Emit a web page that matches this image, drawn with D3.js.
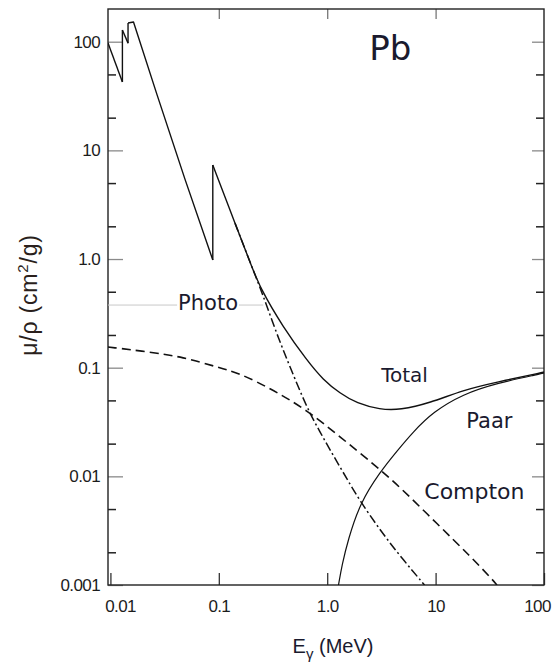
<!DOCTYPE html>
<html>
<head>
<meta charset="utf-8">
<script src="https://cdn.jsdelivr.net/npm/d3@7"></script>
<style>
  body { margin: 0; background: #fff; }
  svg { display: block; font-family: "Liberation Sans", Arial, sans-serif; }
</style>
</head>
<body>
<svg id="chart" width="552" height="670"></svg>
<script>
// photon energy (MeV) and mass attenuation coefficient (cm^2/g) for lead
// repeated energies are absorption edges (vertical jumps)
const totalE  = [0.0095, 0.0129, 0.0129, 0.01454, 0.01454, 0.01633, 0.0269, 0.0488, 0.088, 0.088,
                 0.141, 0.194, 0.240, 0.391, 0.647, 0.920, 1.313, 1.872, 3.07, 4.69, 8.88,
                 17.9, 36.9, 91.8, 100];
const totalMu = [97.2, 42.6, 128, 97, 148.6, 151.7, 32.6, 5.41, 0.98, 7.33,
                 2.14, 0.938, 0.541, 0.2367, 0.1176, 0.0770, 0.0581, 0.0470, 0.0412, 0.0408, 0.0473,
                 0.0623, 0.0738, 0.0893, 0.0912];

const photoE  = [0.141, 0.194, 0.2557, 0.337, 0.454, 0.651, 0.858, 1.131, 1.523, 2.007, 3.07, 4.69, 7.90];
const photoMu = [2.14, 0.938, 0.4663, 0.2129, 0.1014, 0.0425, 0.02558, 0.01571, 0.00945, 0.00593, 0.00321, 0.00185, 0.001];

const comptonE  = [0.0095, 0.0232, 0.0467, 0.0962, 0.157, 0.318, 0.647, 1.313, 2.862, 4.69, 10.5, 20.8, 33.8, 36.8];
const comptonMu = [0.155, 0.1393, 0.1253, 0.1014, 0.0887, 0.0623, 0.0408, 0.02316, 0.01226, 0.00797, 0.0036, 0.00185, 0.00111, 0.001];

const pairE  = [1.271, 1.369, 1.555, 2.007, 3.07, 4.405, 6.19, 9.46, 17.9, 36.9, 91.8, 100];
const pairMu = [0.001, 0.001527, 0.002594, 0.00568, 0.01096, 0.0171, 0.02558, 0.0391, 0.0572, 0.0722, 0.0874, 0.0893];

const xTicks = [0.01, 0.1, 1, 10, 100];
const xTickLabels = ["0.01", "0.1", "1.0", "10", "100"];
const yTicks = [0.001, 0.01, 0.1, 1, 10, 100];
const yTickLabels = ["0.001", "0.01", "0.1", "1.0", "10", "100"];
const yMinorTicks = [0.002, 0.005, 0.02, 0.05, 0.2, 0.5, 2, 5, 20, 50];

const svg = d3.select("#chart");

const x = d3.scaleLog().domain([0.0095, 100]).range([108, 544]);
const y = d3.scaleLog().domain([0.001, 200]).range([585, 9]);

const [x0, x1] = x.range();
const [y0, y1] = y.range();

svg.append("clipPath").attr("id", "plot")
    .append("rect")
    .attr("x", x0).attr("y", y1)
    .attr("width", x1 - x0).attr("height", y0 - y1);

// axes: ticks point inward
function styleAxis(g, tickColor, tickWidth) {
    g.attr("font-family", null).attr("font-size", null);
    g.select(".domain").remove();
    g.selectAll(".tick line").attr("stroke", tickColor).attr("stroke-width", tickWidth);
    g.selectAll(".tick text")
        .attr("fill", "#1c1c1c")
        .attr("font-size", 17)
        .attr("letter-spacing", -0.6);
}

svg.append("g")
    .attr("transform", `translate(${x0},0)`)
    .call(d3.axisLeft(y).tickValues(yTicks).tickFormat((d, i) => yTickLabels[i])
        .tickSizeInner(-15).tickSizeOuter(0).tickPadding(8))
    .call(g => styleAxis(g, "#8a8a8a", 1.3));

svg.append("g")
    .attr("transform", `translate(${x0},0)`)
    .call(d3.axisLeft(y).tickValues(yMinorTicks).tickFormat("").tickSizeInner(-8).tickSizeOuter(0))
    .call(g => styleAxis(g, "#222", 1.5));

svg.append("g")
    .attr("transform", `translate(${x1},0)`)
    .call(d3.axisRight(y).tickValues(yTicks).tickFormat("").tickSizeInner(-12).tickSizeOuter(0))
    .call(g => styleAxis(g, "#8a8a8a", 1.3));

svg.append("g")
    .attr("transform", `translate(${x1},0)`)
    .call(d3.axisRight(y).tickValues(yMinorTicks).tickFormat("").tickSizeInner(-8).tickSizeOuter(0))
    .call(g => styleAxis(g, "#222", 1.5));

svg.append("g")
    .attr("transform", `translate(0,${y0})`)
    .call(d3.axisBottom(x).tickValues(xTicks).tickFormat((d, i) => xTickLabels[i])
        .tickSizeInner(-12).tickSizeOuter(0).tickPadding(15))
    .call(g => styleAxis(g, "#333", 1.3))
    .call(g => g.selectAll(".tick text")
        .attr("dx", d => Math.min(Math.max(x(d), 120), 537) - x(d)));

svg.append("g")
    .attr("transform", `translate(0,${y1})`)
    .call(d3.axisTop(x).tickValues(xTicks.slice(1, 4)).tickFormat("").tickSizeInner(-10).tickSizeOuter(0))
    .call(g => styleAxis(g, "#777", 1.3));

// frame
svg.append("rect")
    .attr("x", x0).attr("y", y1)
    .attr("width", x1 - x0).attr("height", y0 - y1)
    .attr("fill", "none")
    .attr("stroke", "#222")
    .attr("stroke-width", 1.4);

// curves: straight pieces below the K edge, smoothed above it
const smooth = d3.line()
    .x(d => x(d[0]))
    .y(d => y(d[1]))
    .curve(d3.curveBasis);

const straight = d3.line()
    .x(d => x(d[0]))
    .y(d => y(d[1]));

// split a series at its edges so the jumps stay vertical
function pieces(E, mu) {
    const out = [];
    let cur = [[E[0], mu[0]]];
    for (let i = 1; i < E.length; i++) {
        const p = [E[i], mu[i]];
        if (E[i] === E[i - 1]) {
            out.push(cur);
            out.push([cur[cur.length - 1], p]);
            cur = [p];
        } else {
            cur.push(p);
        }
    }
    out.push(cur);
    return out;
}

const curves = svg.append("g").attr("clip-path", "url(#plot)")
    .attr("fill", "none")
    .attr("stroke", "#111")
    .attr("stroke-width", 1.4)
    .attr("stroke-linejoin", "round");

curves.selectAll(".total")
    .data(pieces(totalE, totalMu))
    .enter().append("path")
    .attr("class", "total")
    .attr("d", d => d.length > 2 && d[0][0] >= 0.08 ? smooth(d) : straight(d));

curves.append("path")
    .datum(d3.zip(photoE, photoMu))
    .attr("d", smooth)
    .attr("stroke-width", 1.5)
    .attr("stroke-dasharray", "9,3,2,3");

curves.append("path")
    .datum(d3.zip(comptonE, comptonMu))
    .attr("d", smooth)
    .attr("stroke-width", 1.6)
    .attr("stroke-dasharray", "9,5");

curves.append("path")
    .datum(d3.zip(pairE, pairMu))
    .attr("d", smooth)
    .attr("stroke-width", 1.2);

// labels
const labelFont = "'DejaVu Sans', Verdana, sans-serif";

svg.append("line")
    .attr("x1", x0).attr("x2", x(0.257))
    .attr("y1", y(0.377)).attr("y2", y(0.377))
    .attr("stroke", "#c8c8c8")
    .attr("stroke-width", 1);

const photoLabel = svg.append("text")
    .attr("x", x(0.0421)).attr("y", y(0.34))
    .attr("font-family", labelFont).attr("font-size", 21)
    .attr("fill", "#1a1a2e")
    .text("Photo");
const bb = photoLabel.node().getBBox();
svg.insert("rect", () => photoLabel.node())
    .attr("x", bb.x - 1).attr("y", bb.y + 4)
    .attr("width", bb.width + 2).attr("height", bb.height - 8)
    .attr("fill", "#fff");

const labels = [
    { text: "Total", e: 3.15, mu: 0.0738, size: 20 },
    { text: "Paar", e: 19.2, mu: 0.0279, size: 21 },
    { text: "Compton", e: 7.86, mu: 0.00618, size: 22 },
    { text: "Pb", e: 2.44, mu: 67.8, size: 34 }
];

svg.selectAll(".curve-label")
    .data(labels)
    .enter().append("text")
    .attr("class", "curve-label")
    .attr("x", d => x(d.e))
    .attr("y", d => y(d.mu))
    .attr("font-family", labelFont)
    .attr("font-size", d => d.size)
    .attr("fill", "#1a1a2e")
    .text(d => d.text);

// axis titles
const yTitle = svg.append("text")
    .attr("transform", "translate(37,295) rotate(-90)")
    .attr("text-anchor", "middle")
    .attr("font-size", 23)
    .attr("letter-spacing", 0.8)
    .attr("fill", "#2a1f1c");
yTitle.append("tspan").text("μ/ρ (cm");
yTitle.append("tspan").attr("dy", -9).attr("font-size", 15).text("2");
yTitle.append("tspan").attr("dy", 9).text("/g)");

const xTitle = svg.append("text")
    .attr("x", 333).attr("y", 653)
    .attr("text-anchor", "middle")
    .attr("font-size", 20)
    .attr("fill", "#1a1a2e");
xTitle.append("tspan").text("E");
xTitle.append("tspan").attr("dy", 6).attr("font-size", 15).text("γ");
xTitle.append("tspan").attr("dy", -6).text(" (MeV)");
</script>
</body>
</html>
